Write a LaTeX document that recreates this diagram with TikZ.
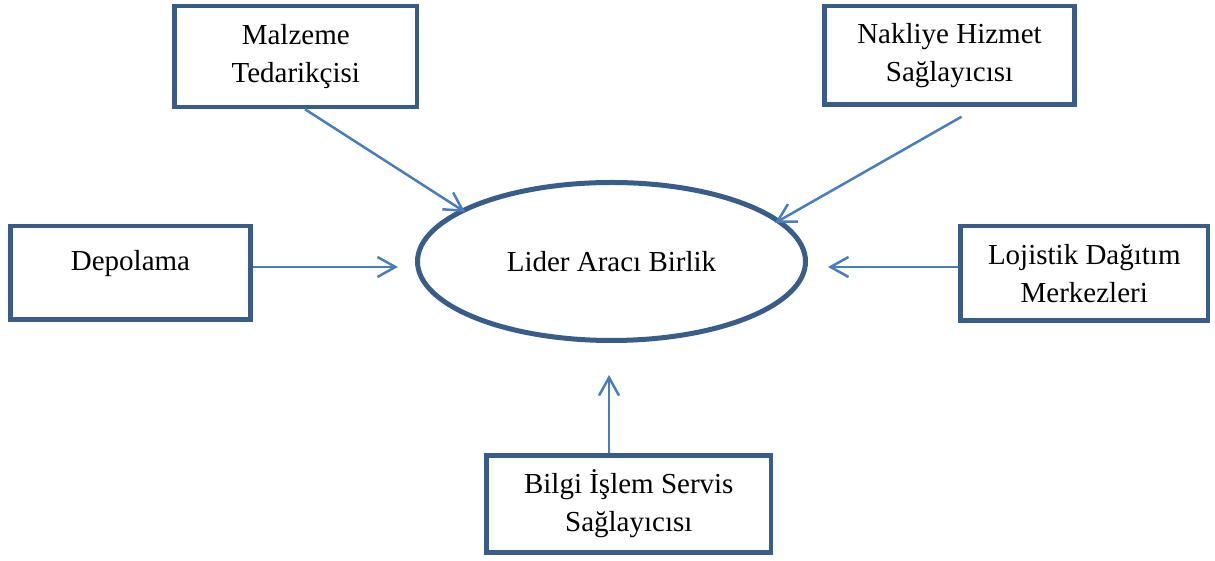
\documentclass[tikz,border=0pt]{standalone}
\usepackage{fontspec}
\setmainfont{Liberation Serif}
\usetikzlibrary{shapes.geometric,arrows.meta}

\definecolor{boxline}{HTML}{385D8A}
\definecolor{arrline}{HTML}{4A7EBB}

\tikzset{
  partner/.style={draw=boxline, line width=4.5pt, fill=white, inner sep=0pt,
    align=center, text=black},
  hub/.style={ellipse, draw=boxline, line width=5pt, inner sep=0pt,
    minimum width=388pt, minimum height=158pt, text=black},
  flow/.style={draw=arrline, line width=2.5pt,
    -{Straight Barb[length=18pt,width=20pt,line width=2.5pt]}}
}

\begin{document}
\begin{tikzpicture}[x=1pt, y=1pt, font=\fontsize{29}{38}\selectfont]
  \useasboundingbox (0,0) rectangle (1215,561);

  % central partnership
  \node[hub] (lider) at (611.5,299.5) {Lider Aracı Birlik};

  % partners around it
  \node[partner, minimum width=242.5pt, minimum height=101pt] (malz)
    at (295.75,504.5) {Malzeme\\Tedarikçisi};
  \node[partner, minimum width=250pt, minimum height=98.5pt] (nak)
    at (949.5,505.75) {Nakliye Hizmet\\Sağlayıcısı};
  \node[partner, minimum width=240pt, minimum height=93.5pt,
    label={[yshift=9.5pt]center:Depolama}] (depo) at (130.5,288.25) {};
  \node[partner, minimum width=247.5pt, minimum height=94.5pt] (loj)
    at (1084.25,287.75) {Lojistik Dağıtım\\Merkezleri};
  \node[partner, minimum width=284.5pt, minimum height=97pt] (bilgi)
    at (628.75,57) {Bilgi İşlem Servis\\Sağlayıcısı};

  % connector end points
  \coordinate (nakOut) at ([xshift=12pt, yshift=-10pt]nak.south);
  \coordinate (malzIn) at ([xshift=-146.5pt, yshift=49.5pt]lider.center);
  \coordinate (nakIn)  at ([xshift=163.5pt, yshift=38.5pt]lider.center);
  \coordinate (row)    at ([yshift=-5.5pt]lider.center);

  % connectors towards the partnership
  \draw[flow] ([xshift=9.25pt]malz.south) -- (malzIn);
  \draw[flow] (nakOut) -- (nakIn);
  \draw[flow, shorten >=17pt] (depo.east |- row) -- (lider.west |- row);
  \draw[flow, shorten >=20pt] (loj.west |- row) -- (lider.east |- row);
  \draw[flow, shorten >=32pt] ([xshift=-19.75pt]bilgi.north) -- ([xshift=-2.5pt]lider.south);
\end{tikzpicture}
\end{document}
